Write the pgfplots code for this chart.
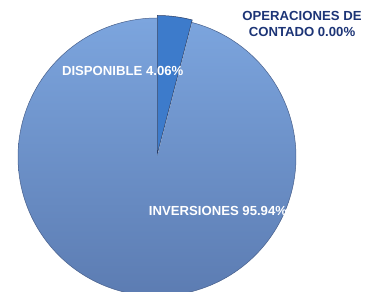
\documentclass[border=0pt]{standalone}
\usepackage{pgfplots}
\pgfplotsset{compat=1.18}
\usepackage{fontspec}
\setmainfont{Liberation Sans}
\definecolor{invtop}{RGB}{124,165,222}
\definecolor{invmid}{RGB}{108,146,206}
\definecolor{invbot}{RGB}{92,124,178}
\definecolor{disp}{RGB}{61,123,203}
\definecolor{navy}{RGB}{28,52,118}
% data (percent)
\def\vDisp{4.06}
\def\vInv{95.94}
\def\vOper{0.00}
\begin{document}
\begin{tikzpicture}
\pgfmathsetmacro{\aDisp}{3.6*\vDisp}
\pgfmathsetmacro{\aStart}{90-\aDisp}
\pgfmathsetmacro{\aInvEnd}{90+3.6*\vInv}
\begin{axis}[
  scale only axis, width=365bp, height=292bp,
  xmin=0, xmax=365, ymin=0, ymax=292,
  hide axis, clip=true,
]
% INVERSIONES slice (from 90 deg counterclockwise)
\addplot[draw=none, top color=invtop, middle color=invmid, bottom color=invbot,
  domain=90:\aInvEnd, samples=180, variable=\t]
  ({157+139*cos(t)},{135+139*sin(t)}) -- (axis cs:157,135) -- cycle;
\addplot[draw={rgb,255:red,72;green,96;blue,140}, line width=0.5pt, domain=90:\aInvEnd, samples=180, variable=\t]
  ({157+139*cos(t)},{135+139*sin(t)});
% DISPONIBLE slice (exploded)
\addplot[fill=disp, draw={rgb,255:red,40;green,60;blue,100}, line width=0.5pt,
  domain=\aStart:90, samples=30, variable=\t]
  ({157.4+138*cos(t)},{138.5+138*sin(t)}) -- (axis cs:157.4,138.5) -- cycle;
% OPERACIONES DE CONTADO (0.00%): no visible slice
\node[text=white, font=\bfseries\fontsize{13.2}{15}\selectfont] at (axis cs:122.7,221.3) {DISPONIBLE 4.06\%};
\node[text=white, font=\bfseries\fontsize{13.2}{15}\selectfont] at (axis cs:218,81.3) {INVERSIONES 95.94\%};
\node[text=navy, font=\bfseries\fontsize{13.2}{16}\selectfont, align=center] at (axis cs:302,268) {OPERACIONES DE\\CONTADO 0.00\%};
\end{axis}
\pgfresetboundingbox
\path[use as bounding box] (current axis.south west) rectangle (current axis.north east);
\end{tikzpicture}
\end{document}
